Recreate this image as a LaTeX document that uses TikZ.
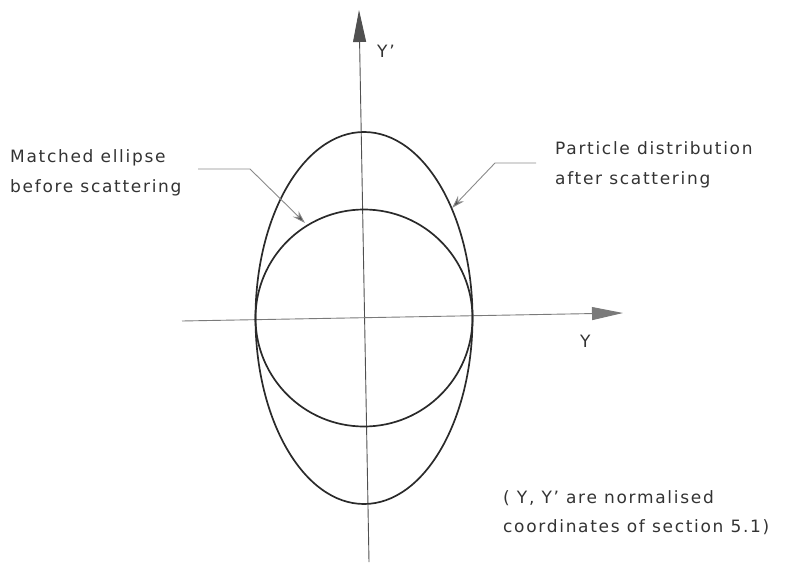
\documentclass[tikz,border=0pt]{standalone}
\usepackage{fontspec}
\setmainfont{DejaVu Sans}[LetterSpace=10]
\usetikzlibrary{arrows.meta}
\definecolor{curvecol}{HTML}{2A2A2A}
\definecolor{axiscol}{HTML}{505050}
\definecolor{haxiscol}{HTML}{7A7A7A}
\definecolor{leadcol}{HTML}{8A8A8A}
\definecolor{textcol}{HTML}{333333}
\tikzset{
  curve/.style={draw=curvecol, line width=1.7pt},
  vaxis/.style={draw=axiscol, line width=0.9pt, -{Triangle[length=32pt,width=13pt,fill=axiscol]}},
  haxis/.style={draw=haxiscol, line width=0.9pt, -{Triangle[length=31pt,width=13pt,fill=haxiscol]}},
  leader/.style={draw=leadcol, line width=0.9pt, -{Stealth[length=13pt,width=8pt,fill=axiscol]}},
  lab/.style={text=textcol, font=\fontsize{17}{20}\selectfont, anchor=base west, inner sep=0pt},
}
\begin{document}
\begin{tikzpicture}[x=1pt,y=-1pt]
\useasboundingbox (0,0) rectangle (792,564);
% axes
\coordinate (ybot) at (369,562);
\coordinate (ytop) at (359,10);
\coordinate (xl) at (182,321);
\coordinate (xr) at (623,313);
\draw[vaxis] (ybot) -- (ytop);
\draw[haxis] (xl) -- (xr);
% curves
\coordinate (c) at (364,318);
\draw[curve] (c) circle [radius=108.5];
\draw[curve] (c) ellipse [x radius=108.5, y radius=186];
% axis labels
\node[lab] (ylab) at (377,58) {Y'};
\node[lab] (xlab) at (580,347) {Y};
% left label
\node[lab] (l1) at (10,163) {Matched ellipse};
\node[lab] (l2) at (10,193) {before scattering};
\coordinate (la) at (198,169);
\coordinate (lb) at (250,169);
\coordinate (lt) at (305,223);
\draw[leader] (la) -- (lb) -- (lt);
% right label
\node[lab] (r1) at (555,155) {Particle distribution};
\node[lab] (r2) at (555,185) {after scattering};
\coordinate (ra) at (536,163);
\coordinate (rb) at (495,163);
\coordinate (rt) at (452,208);
\draw[leader] (ra) -- (rb) -- (rt);
% note
\node[lab] (n1) at (503,503) {( Y, Y' are normalised};
\node[lab] (n2) at (503,532) {coordinates of section 5.1)};
\end{tikzpicture}
\end{document}
